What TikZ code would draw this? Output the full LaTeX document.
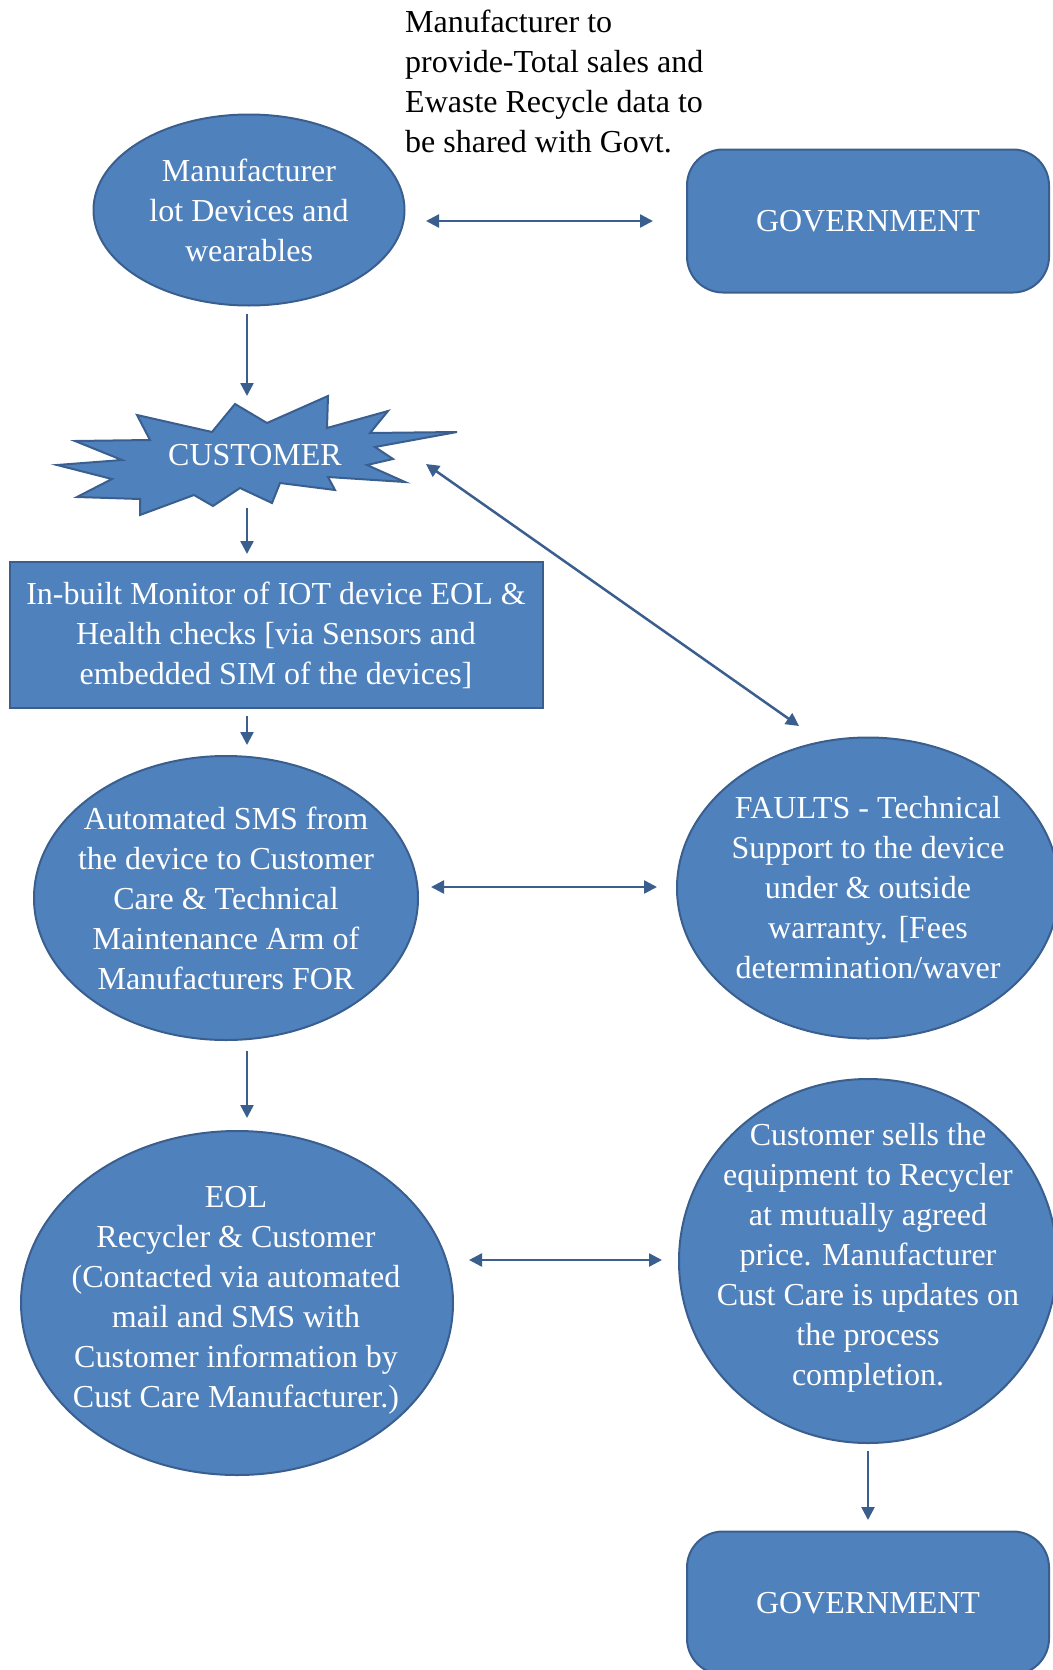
\documentclass[tikz,border=0pt]{standalone}
\usepackage{fontspec}
\setmainfont{Liberation Serif}
\usetikzlibrary{arrows.meta}
\usetikzlibrary{shapes.geometric}
\pgfdeclarelayer{nodelayer}
\pgfdeclarelayer{edgelayer}
\pgfsetlayers{nodelayer,edgelayer,main}
\definecolor{boxfill}{HTML}{4F81BD}
\definecolor{boxline}{HTML}{3A5F8E}
\tikzset{
  blob/.style={ellipse, draw=boxline, fill=boxfill, line width=2pt, inner sep=0pt},
  govbox/.style={rectangle, rounded corners=36pt, draw=boxline, fill=boxfill, line width=2pt, minimum width=362pt, minimum height=143pt, text=white, font=\fontsize{32}{40}\selectfont},
  monbox/.style={rectangle, draw=boxline, fill=boxfill, line width=2pt, minimum width=533pt, minimum height=146pt, inner sep=0pt},
  burst/.style={draw=boxline, fill=boxfill, line width=2pt, line join=miter},
  intext/.style={text=white, align=center, inner sep=0pt, font=\fontsize{32}{40}\selectfont},
  note/.style={text=black, align=left, inner sep=0pt, font=\fontsize{32}{40}\selectfont},
  tip/.tip={Triangle[length=13pt,width=13pt]},
  flow/.style={draw=boxline, line width=2.5pt, -tip},
  twoway/.style={draw=boxline, line width=2.5pt, tip-tip},
}
\begin{document}
\begin{tikzpicture}[x=1pt, y=-1pt]
  \useasboundingbox (0, 0) rectangle (1052, 1670);
  \begin{pgfonlayer}{nodelayer}
    \node [blob, minimum width=311pt, minimum height=191pt] (0) at (249, 210) {};
    \node [intext] (1) at (0.center) {Manufacturer\\lot Devices and\\wearables};
    \node [govbox] (2) at (868, 221) {GOVERNMENT};
    \draw [burst] (235,404) -- (267,423) -- (328,396) -- (327,428) -- (388,411)
      -- (370,433) -- (457,432) -- (375,447) -- (393,459) -- (367,465)
      -- (405,482) -- (328,477) -- (335,490) -- (280,483) -- (272,503)
      -- (240,488) -- (213,506) -- (194,495) -- (140,515) -- (140,499)
      -- (77,497) -- (112,479) -- (57,465) -- (122,460) -- (75,441)
      -- (150,440) -- (137,415) -- (212,432) -- cycle;
    \node [intext] (3) at (255, 455) {CUSTOMER};
    \node [monbox] (4) at (276, 635) {};
    \node [intext] (5) at (4.center) {In-built Monitor of IOT device EOL \&\\Health checks [via Sensors and\\embedded SIM of the devices]};
    \node [blob, minimum width=384pt, minimum height=284pt] (6) at (226, 898) {};
    \node [intext] (7) at (6.center) {Automated SMS from\\the device to Customer\\Care \& Technical\\Maintenance Arm of\\Manufacturers FOR};
    \node [blob, minimum width=382pt, minimum height=301pt] (8) at (868, 888) {};
    \node [intext] (9) at (8.center) {FAULTS - Technical\\Support to the device\\under \& outside\\warranty. [Fees\\determination/waver};
    \node [blob, minimum width=432pt, minimum height=344pt] (10) at (237, 1303) {};
    \node [intext] (11) at (236, 1300) {EOL\\Recycler \& Customer\\(Contacted via automated\\mail and SMS with\\Customer information by\\Cust Care Manufacturer.)};
    \node [blob, minimum width=378pt, minimum height=364pt] (12) at (868, 1261) {};
    \node [intext] (13) at (868, 1258) {Customer sells the\\equipment to Recycler\\at mutually agreed\\price. Manufacturer\\Cust Care is updates on\\the process\\completion.};
    \node [govbox] (14) at (868, 1603) {GOVERNMENT};
    \node [note, anchor=west] (15) at (405, 81) {Manufacturer to\\provide-Total sales and\\Ewaste Recycle data to\\be shared with Govt.};
    \node [] (16) at (426, 221) {};
    \node [] (17) at (653, 221) {};
    \node [] (18) at (247, 314) {};
    \node [] (19) at (247, 396) {};
    \node [] (20) at (247, 508) {};
    \node [] (21) at (247, 554) {};
    \node [] (22) at (426, 464) {};
    \node [] (23) at (799, 726) {};
    \node [] (24) at (247, 716) {};
    \node [] (25) at (247, 745) {};
    \node [] (26) at (431, 887) {};
    \node [] (27) at (657, 887) {};
    \node [] (28) at (247, 1051) {};
    \node [] (29) at (247, 1118) {};
    \node [] (30) at (469, 1260) {};
    \node [] (31) at (662, 1260) {};
    \node [] (32) at (868, 1451) {};
    \node [] (33) at (868, 1520) {};
  \end{pgfonlayer}
  \begin{pgfonlayer}{edgelayer}
    \draw [twoway] (16.center) to (17.center);
    \draw [flow] (18.center) to (19.center);
    \draw [flow] (20.center) to (21.center);
    \draw [twoway] (22.center) to (23.center);
    \draw [flow] (24.center) to (25.center);
    \draw [twoway] (26.center) to (27.center);
    \draw [flow] (28.center) to (29.center);
    \draw [twoway] (30.center) to (31.center);
    \draw [flow] (32.center) to (33.center);
  \end{pgfonlayer}
\end{tikzpicture}
\end{document}
